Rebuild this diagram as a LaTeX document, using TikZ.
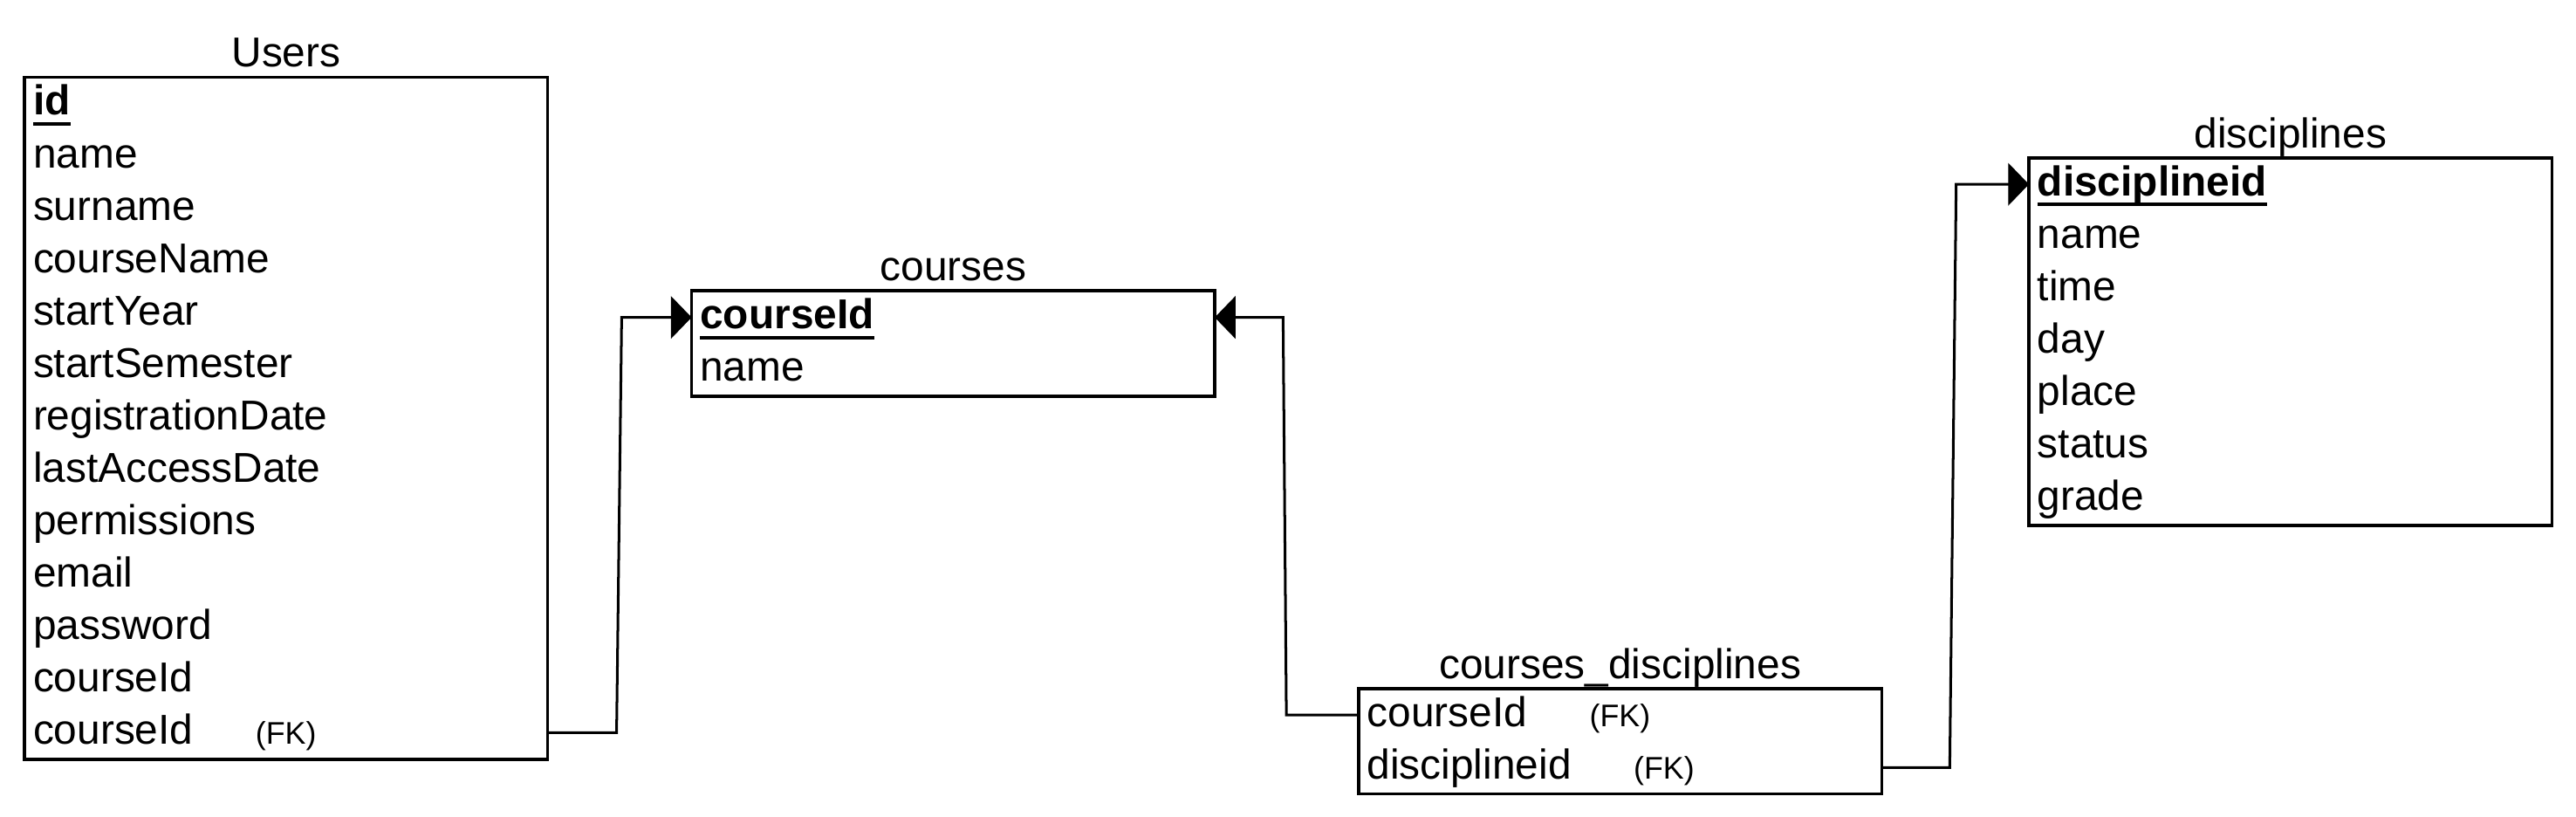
\documentclass[tikz,border=0pt]{standalone}
\usepackage{fontspec}
\setmainfont{Liberation Sans}
\usetikzlibrary{arrows.meta}
\newlength\pkw
\newcommand{\pkey}[1]{\settowidth{\pkw}{\textbf{#1}}\textbf{#1}\hspace{-\pkw}\rule[-6.2pt]{\pkw}{2pt}}
\newcommand{\fkl}[1]{\hspace{38pt}{\fontsize{19pt}{22pt}\selectfont #1}}
\begin{document}
\begin{tikzpicture}[x=1pt,y=-1pt,
  row/.style={anchor=north west, inner xsep=5pt, inner ysep=0pt, text width=308pt, align=left,
              text height=23pt, text depth=8.9pt, font=\fontsize{25.4pt}{30pt}\selectfont},
  tbl/.style={draw=black, line width=1.9pt},
  ttl/.style={anchor=base, yshift=6pt, inner sep=0pt, font=\fontsize{25.4pt}{30pt}\selectfont},
  conn/.style={draw=black, line width=1.6pt},
  fktip/.style={-{Triangle[length=12.6pt,width=25.7pt]}}
]
\useasboundingbox (0,0) rectangle (1568,497);
% Users
\node[row] (u1) at (15,46.9) {\pkey{id}};
\node[row] (u2) at (15,78.8) {name};
\node[row] (u3) at (15,110.7) {surname};
\node[row] (u4) at (15,142.6) {courseName};
\node[row] (u5) at (15,174.5) {startYear};
\node[row] (u6) at (15,206.4) {startSemester};
\node[row] (u7) at (15,238.3) {registrationDate};
\node[row] (u8) at (15,270.2) {lastAccessDate};
\node[row] (u9) at (15,302.1) {permissions};
\node[row] (u10) at (15,334.0) {email};
\node[row] (u11) at (15,365.9) {password};
\node[row] (u12) at (15,397.8) {courseId};
\node[row] (u13) at (15,429.7) {courseId\fkl{(FK)}};
\draw[tbl] (u1.north west) rectangle (u13.south east);
\node[ttl] (ut) at (u1.north) {Users};
% courses
\node[row] (c1) at (421,177) {\pkey{courseId}};
\node[row] (c2) at (421,208.9) {name};
\draw[tbl] (c1.north west) rectangle (c2.south east);
\node[ttl] (ct) at (c1.north) {courses};
% courses_disciplines
\node[row] (cd1) at (827,419) {courseId\fkl{(FK)}};
\node[row] (cd2) at (827,450.9) {disciplineid\fkl{(FK)}};
\draw[tbl] (cd1.north west) rectangle (cd2.south east);
\node[ttl] (cdt) at (cd1.north) {courses\_disciplines};
% disciplines
\node[row] (d1) at (1235,96) {\pkey{disciplineid}};
\node[row] (d2) at (1235,127.9) {name};
\node[row] (d3) at (1235,159.8) {time};
\node[row] (d4) at (1235,191.7) {day};
\node[row] (d5) at (1235,223.6) {place};
\node[row] (d6) at (1235,255.5) {status};
\node[row] (d7) at (1235,287.4) {grade};
\draw[tbl] (d1.north west) rectangle (d7.south east);
\node[ttl] (dt) at (d1.north) {disciplines};
% connectors
\draw[conn,fktip] (u13.east) -- (375.3,0 |- u13.east) -- (378.4,0 |- c1.west) -- (c1.west);
\draw[conn,fktip] (cd1.west) -- (783,0 |- cd1.west) -- (781,0 |- c1.east) -- (c1.east);
\draw[conn,fktip] (cd2.east) -- (1186.8,0 |- cd2.east) -- (1190.7,0 |- d1.west) -- (d1.west);
\end{tikzpicture}
\end{document}
